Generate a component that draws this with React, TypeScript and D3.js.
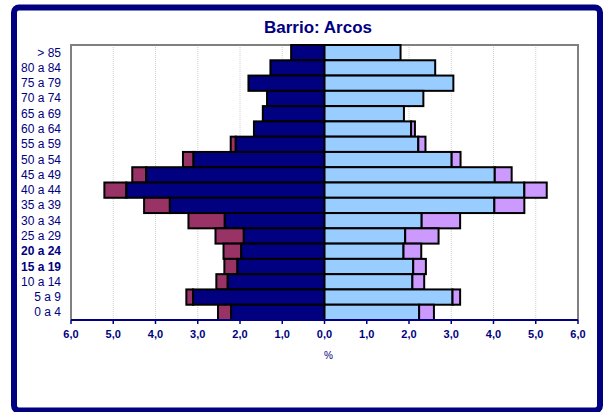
import * as d3 from "d3";

const ageGroups = [
	"> 85", "80 a 84", "75 a 79", "70 a 74", "65 a 69", "60 a 64",
	"55 a 59", "50 a 54", "45 a 49", "40 a 44", "35 a 39", "30 a 34",
	"25 a 29", "20 a 24", "15 a 19", "10 a 14", "5 a 9", "0 a 4",
];
const boldGroups = ["20 a 24", "15 a 19"];
// hombres: españoles + extranjeros (en %)
const menSpanish = [0.79, 1.28, 1.8, 1.36, 1.46, 1.67, 2.1, 3.1, 4.22, 4.69, 3.66, 2.36, 1.91, 1.97, 2.06, 2.29, 3.11, 2.21];
const menForeign = [0, 0, 0, 0, 0, 0, 0.12, 0.25, 0.33, 0.52, 0.61, 0.86, 0.67, 0.42, 0.31, 0.27, 0.16, 0.31];
// mujeres
const womenSpanish = [1.8, 2.62, 3.05, 2.34, 1.88, 2.05, 2.22, 3.01, 4.03, 4.73, 4.02, 2.3, 1.91, 1.87, 2.1, 2.08, 3.03, 2.24];
const womenForeign = [0, 0, 0, 0, 0, 0.09, 0.17, 0.21, 0.4, 0.53, 0.71, 0.91, 0.79, 0.42, 0.3, 0.28, 0.18, 0.35];
const ticks = [-6, -5, -4, -3, -2, -1, 0, 1, 2, 3, 4, 5, 6];

const navy = "#000080";
const font = "'Liberation Sans', Arial, sans-serif";

export default function App() {
	const left = 71;
	const right = 578;
	const top = 45;
	const bottom = 320;

	const x = d3.scaleLinear().domain([-6, 6]).range([left, right]);
	const y = d3.scaleBand().domain(ageGroups).range([top, bottom]).padding(0);
	const fmt = (v: number) => Math.abs(v).toFixed(1).replace(".", ",");

	return (
		<svg
			width={607}
			height={412}
			style={{ position: "absolute", left: 0, top: 0, fontFamily: font }}
		>
			<rect x={0} y={0} width={607} height={412} fill="white" />
			<rect x={14} y={7.5} width={586} height={403} rx={5} fill="white" stroke={navy} strokeWidth={6} />
			<text x={318} y={33} textAnchor="middle" fontSize={17} fontWeight="bold" fill={navy}>
				Barrio: Arcos
			</text>

			{ticks.map((t) =>
				t === 0 || Math.abs(t) === 6 ? null : (
					<line key={"g" + t} x1={x(t)} x2={x(t)} y1={top} y2={bottom} stroke="#d0d0d0" strokeDasharray="1,1" />
				)
			)}
			<path d={`M${left},${bottom} V${top} H${right} V${bottom}`} fill="none" stroke="#808080" strokeWidth={2} />

			{ageGroups.map((g, i) => {
				const y0 = y(g)!;
				const h = y.bandwidth();
				const ms = menSpanish[i];
				const mf = menForeign[i];
				const ws = womenSpanish[i];
				const wf = womenForeign[i];
				return (
					<g key={g} stroke="#000" strokeWidth={2}>
						{mf > 0 && <rect x={x(-ms - mf)} y={y0} width={x(0) - x(-mf)} height={h} fill="#993366" />}
						<rect x={x(-ms)} y={y0} width={x(0) - x(-ms)} height={h} fill={navy} />
						<rect x={x(0)} y={y0} width={x(ws) - x(0)} height={h} fill="#99CCFF" />
						{wf > 0 && <rect x={x(ws)} y={y0} width={x(wf) - x(0)} height={h} fill="#CC99FF" />}
					</g>
				);
			})}

			{ageGroups.map((g) => (
				<text
					key={"l" + g}
					x={61}
					y={y(g)! + y.bandwidth() / 2 + 4}
					textAnchor="end"
					fontSize={12}
					fontWeight={boldGroups.includes(g) ? "bold" : "normal"}
					fill={navy}
				>
					{g}
				</text>
			))}

			<line x1={left} x2={right} y1={bottom} y2={bottom} stroke={navy} strokeWidth={2} />
			{ticks.map((t) => (
				<g key={"t" + t}>
					<line x1={x(t)} x2={x(t)} y1={bottom} y2={bottom + 4} stroke={navy} strokeWidth={1.5} />
					<text x={x(t)} y={bottom + 18} textAnchor="middle" fontSize={11} fontWeight="bold" fill={navy}>
						{fmt(t)}
					</text>
				</g>
			))}
			<text x={x(0) + 4} y={359} textAnchor="middle" fontSize={10} fill={navy}>
				%
			</text>
		</svg>
	);
}
